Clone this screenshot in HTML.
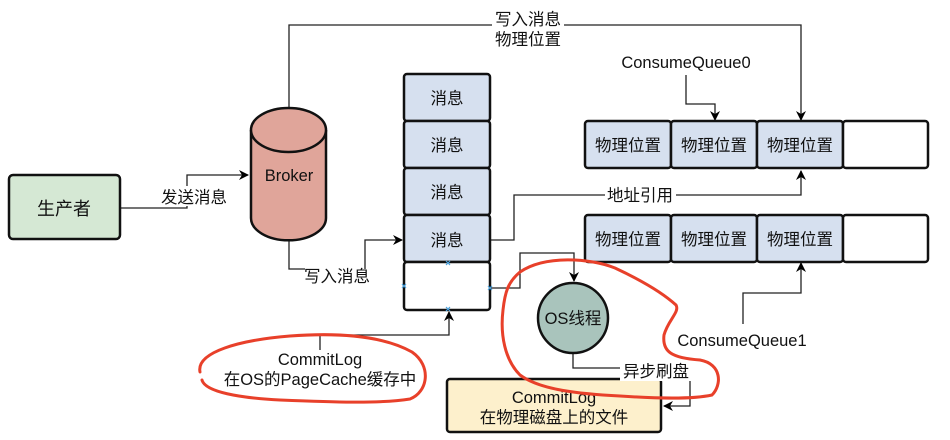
<!DOCTYPE html>
<html><head><meta charset="utf-8"><style>
html,body{margin:0;padding:0;background:#fff;}
svg{display:block;}
text{font-family:"Liberation Sans","Noto Sans CJK SC",sans-serif;fill:#111;}
</style></head><body>
<svg width="950" height="440" viewBox="0 0 950 440" xmlns="http://www.w3.org/2000/svg">
<defs>
<marker id="a" markerWidth="10" markerHeight="10" refX="9" refY="5" orient="auto" markerUnits="userSpaceOnUse">
<path d="M0,0 L10,5 L0,10 L3,5 Z" fill="#000"/>
</marker>
</defs>
<g fill="none" stroke="#222" stroke-width="1.3">
<path d="M121,208 H187 V175 H248" marker-end="url(#a)"/>
<path d="M289,107 V25 H801 V120" marker-end="url(#a)"/>
<path d="M289,241 V269 H305"/>
<path d="M365,269 V240 H402" marker-end="url(#a)"/>
<path d="M320,350 V335 H449 V312" marker-end="url(#a)"/>
<path d="M490,240 H514 V195 H801 V171" marker-end="url(#a)"/>
<path d="M686,75 V104 H715 V120" marker-end="url(#a)"/>
<path d="M743,324 V293 H801 V263" marker-end="url(#a)"/>
<path d="M490,288 H520 V253 H574 V281" marker-end="url(#a)"/>
<path d="M573,354 V368 H690 V406 H664" marker-end="url(#a)"/>
</g>
<rect x="9" y="175" width="111" height="64" rx="4" fill="#d5e8d4" stroke="#111" stroke-width="2.5"/>
<text x="64" y="215" font-size="18" text-anchor="middle">生产者</text>
<rect x="158" y="186" width="71" height="20" fill="#fff"/>
<text x="194" y="203" font-size="16.5" text-anchor="middle">发送消息</text>
<path d="M251,130 V218 A37,22 0 0 0 326,218 V130" fill="#e0a59a" stroke="#111" stroke-width="2.5"/>
<ellipse cx="288.5" cy="130" rx="37.5" ry="22" fill="#e0a59a" stroke="#111" stroke-width="2.5"/>
<text x="289" y="181" font-size="16.5" text-anchor="middle">Broker</text>
<text x="304" y="282" font-size="16.5">写入消息</text>
<rect x="492" y="10" width="72" height="40" fill="#fff"/>
<text x="528" y="25" font-size="16.5" text-anchor="middle">写入消息</text>
<text x="528" y="45" font-size="16.5" text-anchor="middle">物理位置</text>
<g stroke="#111" stroke-width="2.5">
<rect x="404" y="74" width="86" height="47" rx="3" fill="#d6e0ef"/>
<rect x="404" y="121" width="86" height="47" rx="3" fill="#d6e0ef"/>
<rect x="404" y="168" width="86" height="47" rx="3" fill="#d6e0ef"/>
<rect x="404" y="215" width="86" height="47" rx="3" fill="#d6e0ef"/>
<rect x="404" y="262" width="86" height="48" rx="3" fill="#fff"/>
</g>
<g font-size="16.5" text-anchor="middle">
<text x="447" y="104">消息</text><text x="447" y="151">消息</text>
<text x="447" y="198">消息</text><text x="447" y="246">消息</text>
</g>
<g stroke="#4aa3e0" stroke-width="1.2">
<path d="M446,261 l4,4 M450,261 l-4,4"/><path d="M402,284 l4,4 M406,284 l-4,4"/>
<path d="M488,286 l4,4 M492,286 l-4,4"/><path d="M446,307 l4,4 M450,307 l-4,4"/>
</g>
<g stroke="#111" stroke-width="2.5">
<rect x="585" y="121" width="86" height="47" rx="3" fill="#d6e0ef"/>
<rect x="671" y="121" width="86" height="47" rx="3" fill="#d6e0ef"/>
<rect x="757" y="121" width="86" height="47" rx="3" fill="#d6e0ef"/>
<rect x="843" y="121" width="85" height="47" rx="3" fill="#fff"/>
<rect x="585" y="215" width="86" height="47" rx="3" fill="#d6e0ef"/>
<rect x="671" y="215" width="86" height="47" rx="3" fill="#d6e0ef"/>
<rect x="757" y="215" width="86" height="47" rx="3" fill="#d6e0ef"/>
<rect x="843" y="215" width="85" height="47" rx="3" fill="#fff"/>
</g>
<g font-size="16.5" text-anchor="middle">
<text x="628" y="151">物理位置</text><text x="714" y="151">物理位置</text><text x="800" y="151">物理位置</text>
<text x="628" y="245">物理位置</text><text x="714" y="245">物理位置</text><text x="800" y="245">物理位置</text>
</g>
<text x="686" y="68" font-size="16.5" text-anchor="middle">ConsumeQueue0</text>
<rect x="605" y="185" width="71" height="20" fill="#fff"/>
<text x="640" y="201" font-size="16.5" text-anchor="middle">地址引用</text>
<text x="742" y="346" font-size="16.5" text-anchor="middle">ConsumeQueue1</text>
<circle cx="573" cy="318" r="35" fill="#a9c4bc" stroke="#111" stroke-width="2.5"/>
<text x="573" y="324" font-size="16.5" text-anchor="middle">OS线程</text>
<rect x="447" y="379" width="214" height="53" rx="3" fill="#fdf0cc" stroke="#111" stroke-width="2.5"/>
<text x="554" y="403" font-size="16.5" text-anchor="middle">CommitLog</text>
<text x="554" y="423" font-size="16.5" text-anchor="middle">在物理磁盘上的文件</text>
<rect x="620" y="361" width="72" height="20" fill="#fff"/>
<text x="656" y="377" font-size="16.5" text-anchor="middle">异步刷盘</text>
<text x="320" y="365" font-size="16.5" text-anchor="middle">CommitLog</text>
<text x="320" y="385" font-size="16.5" text-anchor="middle">在OS的PageCache缓存中</text>
<g fill="none" stroke="#e8402a" stroke-width="3" stroke-linecap="round">
<path d="M200,372 C196,352 240,340 290,336 C330,333 380,334 412,352 C432,366 428,392 410,399 C380,404 330,402 280,400 C240,398 205,392 202,380"/>
<path d="M520,272 C545,255 590,258 615,268 C645,282 665,295 676,305 C680,312 668,320 664,335 C662,352 672,358 700,360 C722,364 722,385 712,395 C690,400 650,398 620,396 C580,394 540,390 520,375 C505,360 500,335 503,310 C505,292 508,282 520,272"/>
</g>
</svg>
</body></html>
